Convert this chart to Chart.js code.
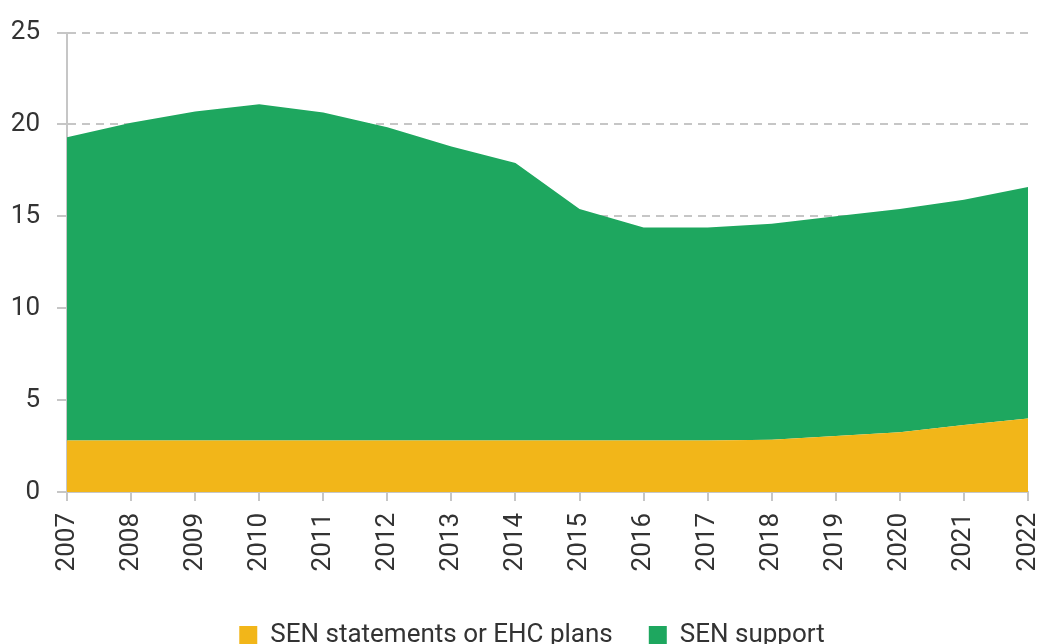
<!DOCTYPE html>
<html>
<head>
<meta charset="utf-8">
<script src="https://cdn.jsdelivr.net/npm/chart.js@4"></script>
<style>
  html, body { margin: 0; padding: 0; background: #fff; }
  #wrap { width: 1043px; height: 644px; }
</style>
</head>
<body>
<div id="wrap"><canvas id="chart"></canvas></div>
<script>
// years on the x axis
const years = ["2007", "2008", "2009", "2010", "2011", "2012", "2013", "2014",
               "2015", "2016", "2017", "2018", "2019", "2020", "2021", "2022"];
// per cent of pupils, stacked
const senPlans = [2.8, 2.8, 2.8, 2.8, 2.8, 2.8, 2.8, 2.8,
                  2.8, 2.8, 2.8, 2.85, 3.05, 3.25, 3.65, 4.0];
const senSupport = [16.5, 17.3, 17.9, 18.3, 17.85, 17.05, 16.0, 15.1,
                    12.6, 11.6, 11.6, 11.75, 11.95, 12.15, 12.25, 12.6];
const yTicks = [0, 5, 10, 15, 20, 25];

const FONT = "Roboto";
const TXT = "#333";
const GRID = "#c6c6c6";

// nudge the legend a little right, like the original
const legendShift = {
  id: "legendShift",
  afterLayout(chart) {
    chart.legend.left += 18;
    chart.legend.right += 18;
  }
};

new Chart(document.getElementById("chart"), {
  type: "line",
  data: {
    labels: years,
    datasets: [{
      label: "SEN statements or EHC plans",
      data: senPlans,
      backgroundColor: "#f2b619",
      borderWidth: 0,
      pointRadius: 0,
      fill: "origin"
    }, {
      label: "SEN support",
      data: senSupport,
      backgroundColor: "#1ea75f",
      borderWidth: 0,
      pointRadius: 0,
      fill: "-1"
    }]
  },
  plugins: [legendShift],
  options: {
    responsive: true,
    maintainAspectRatio: false,
    animation: false,
    layout: { padding: { top: 30, right: 15, left: 0, bottom: -14 } },
    plugins: {
      tooltip: { enabled: false },
      legend: {
        position: "bottom",
        labels: {
          font: { family: FONT, size: 26 },
          color: TXT,
          boxWidth: 18,
          boxHeight: 18,
          padding: 36
        }
      }
    },
    scales: {
      x: {
        offset: false,
        grid: { drawOnChartArea: false, drawTicks: true, tickLength: 9, color: GRID, lineWidth: 2 },
        border: { color: GRID, width: 2 },
        ticks: {
          minRotation: 90, maxRotation: 90,
          padding: 12,
          color: TXT,
          font: { family: FONT, size: 26 }
        },
        afterFit(scale) {
          scale.height = 94;
          scale.paddingLeft = 0;
          scale.paddingRight = 0;
        }
      },
      y: {
        stacked: true,
        min: 0, max: 25,
        afterBuildTicks(scale) { scale.ticks = yTicks.map(v => ({ value: v })); },
        grid: { color: GRID, lineWidth: 2, tickLength: 10, tickColor: GRID },
        border: { color: GRID, width: 2, dash: [8, 6] },
        ticks: {
          padding: 17,
          color: TXT,
          font: { family: FONT, size: 26 }
        },
        afterFit(scale) { scale.width = 67; }
      }
    }
  }
});
</script>
</body>
</html>
